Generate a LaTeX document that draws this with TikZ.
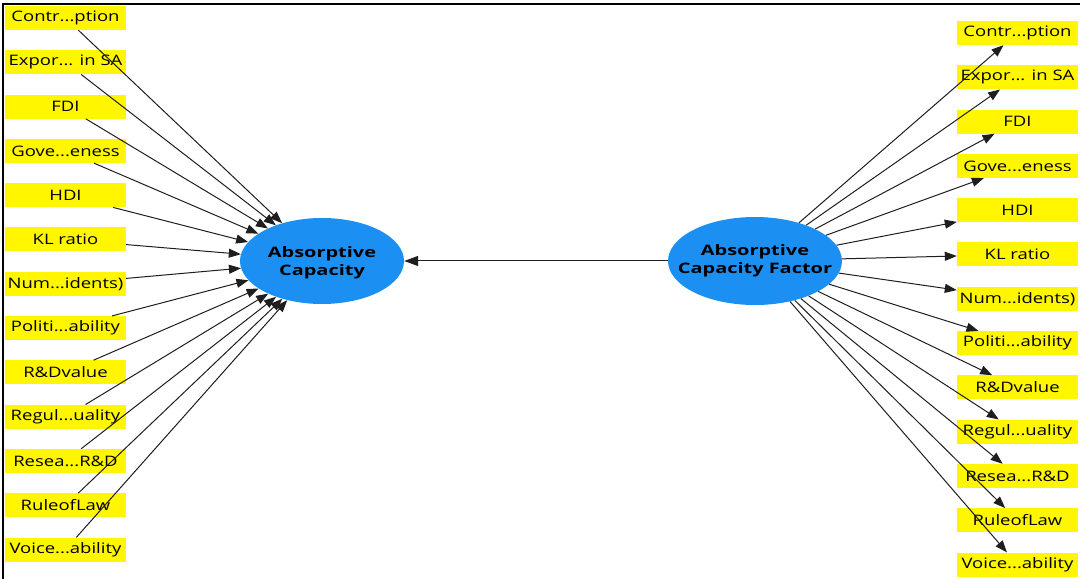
\documentclass[tikz,border=0pt]{standalone}
\usepackage{fontspec}
\usetikzlibrary{arrows.meta,shapes.geometric}
\newfontfamily\lblfont[FakeStretch=1.28]{Open Sans}
\newfontfamily\lvfont[FakeStretch=1.38]{Open Sans}
\definecolor{boxyellow}{RGB}{255,246,0}
\definecolor{lvblue}{RGB}{28,144,242}
\definecolor{linegray}{RGB}{30,30,30}
% truncation mark in indicator names
\newcommand{\elp}{...}
\begin{document}
\begin{tikzpicture}[x=1bp,y=-1bp,
  ind/.style={fill=boxyellow, minimum width=121bp, minimum height=24bp,
              inner sep=0pt, text=black,
              font=\lblfont\fontsize{14.5}{15}\selectfont},
  lv/.style={ellipse, fill=lvblue, inner sep=0pt},
  lvtext/.style={align=center, text=black, inner sep=0pt,
             font=\lvfont\bfseries\fontsize{14.5}{18.5}\selectfont},
  link/.style={draw=linegray, line width=1bp,
                -{Triangle[length=12bp,width=9bp]}},
  frame/.style={draw=black, line width=1.4bp}]
\useasboundingbox (0,0) rectangle (1080,579);
% frame: top and left rules
\draw[frame] (3,579) -- (3,4) -- (1080,4);

% latent variables (fixed size, caption laid over the centre)
\node[lv, minimum width=164bp, minimum height=86bp,
      label={[lvtext, yshift=-2bp]center:{Absorptive\\Capacity}}] (AC) at (322,261) {};
\node[lv, minimum width=174bp, minimum height=88bp,
      label={[lvtext]center:{Absorptive\\Capacity Factor}}] (ACF) at (755,261) {};

% indicators, left (formative) and right (reflective)
\foreach \t [count=\i from 0] in {{Contr\elp ption},{Expor\elp{} in SA},{FDI},
    {Gove\elp eness},{HDI},{KL ratio},{Num\elp idents)},{Politi\elp ability},
    {R\&Dvalue},{Regul\elp uality},{Resea\elp R\&D},{RuleofLaw},{Voice\elp ability}} {
  \node[ind] (L\i) at (65.5,{18+44.3*\i}) {\t};
  \node[ind] (R\i) at (1017.5,{33+44.3*\i}) {\t};
}

% paths
\foreach \i in {0,...,12} {
  \draw[link] (L\i) -- (AC);
  \draw[link] (ACF) -- (R\i);
}
\draw[link, -{Triangle[length=14bp,width=10bp]}] (ACF) -- (AC);
\end{tikzpicture}
\end{document}
